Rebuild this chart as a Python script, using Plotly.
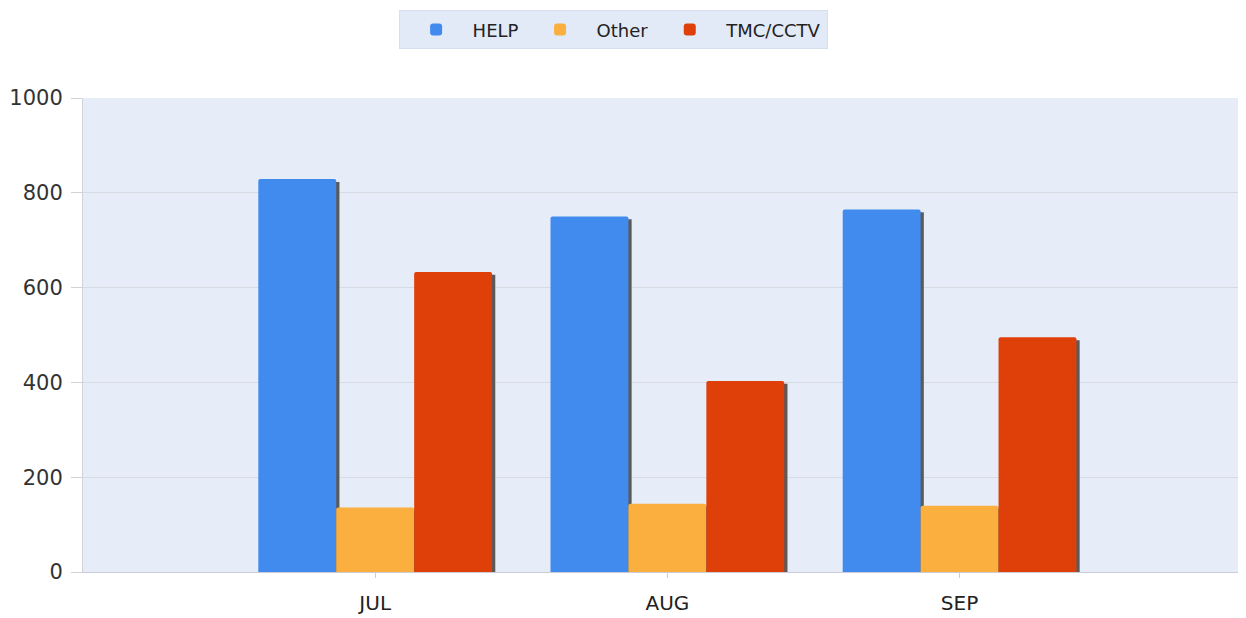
import plotly.graph_objects as go

months = ["JUL", "AUG", "SEP"]
help_calls = [829, 750, 765]
other_calls = [136, 144, 140]
tmc_cctv_calls = [633, 403, 495]

series = [
    ("HELP", help_calls, "#418AEE"),
    ("Other", other_calls, "#FAAF3F"),
    ("TMC/CCTV", tmc_cctv_calls, "#DF400A"),
]

BAR_W = 0.8 / 3
SHADOW_DX = 0.011   # ~3px to the right
SHADOW_DY = 6       # ~3px lower top

fig = go.Figure()

# drop shadows first so the real bars paint over them
for i, (name, vals, color) in enumerate(series):
    off = -0.4 + i * BAR_W
    fig.add_trace(go.Bar(
        x=months, y=[v - SHADOW_DY for v in vals],
        width=BAR_W, offset=off + SHADOW_DX,
        marker=dict(color="#5A5A5A", line=dict(width=0)),
        showlegend=False, hoverinfo="skip",
    ))

for i, (name, vals, color) in enumerate(series):
    off = -0.4 + i * BAR_W
    fig.add_trace(go.Bar(
        x=months, y=vals, name=name,
        width=BAR_W, offset=off,
        marker=dict(color=color, line=dict(width=0), cornerradius=2),
    ))

# page body has an 8px margin, so the figure is sized/placed to compensate
fig.update_layout(
    width=1238, height=610,
    barmode="overlay",
    paper_bgcolor="white",
    plot_bgcolor="#E6EDF9",
    font=dict(family="DejaVu Sans", color="#333333"),
    margin=dict(l=75, r=3, t=90, b=46, autoexpand=False),
    legend=dict(
        orientation="h",
        x=0.457, xanchor="center",
        y=1.185, yanchor="top",
        bgcolor="#E2EAF7",
        bordercolor="#D6DFEE", borderwidth=1,
        font=dict(size=18, color="#222222"),
        itemwidth=63,
    ),
    showlegend=True,
)
fig.update_xaxes(
    range=[-1.0, 2.97],
    showgrid=False,
    showline=True, linecolor="#C9CDD3", linewidth=1,
    ticks="outside", ticklen=5, tickcolor="#C9CDD3",
    ticklabelstandoff=8,
    tickfont=dict(size=20, color="#222222"),
)
fig.update_yaxes(
    range=[0, 1000],
    tickvals=[0, 200, 400, 600, 800, 1000],
    gridcolor="#D8DCE2",
    showline=True, linecolor="#D0D4DA",
    zeroline=False,
    ticks="outside", ticklen=11, tickcolor="#D0D4DA",
    ticklabelstandoff=4,
    tickfont=dict(size=21, color="#333333"),
)

fig.write_html("out.html")
